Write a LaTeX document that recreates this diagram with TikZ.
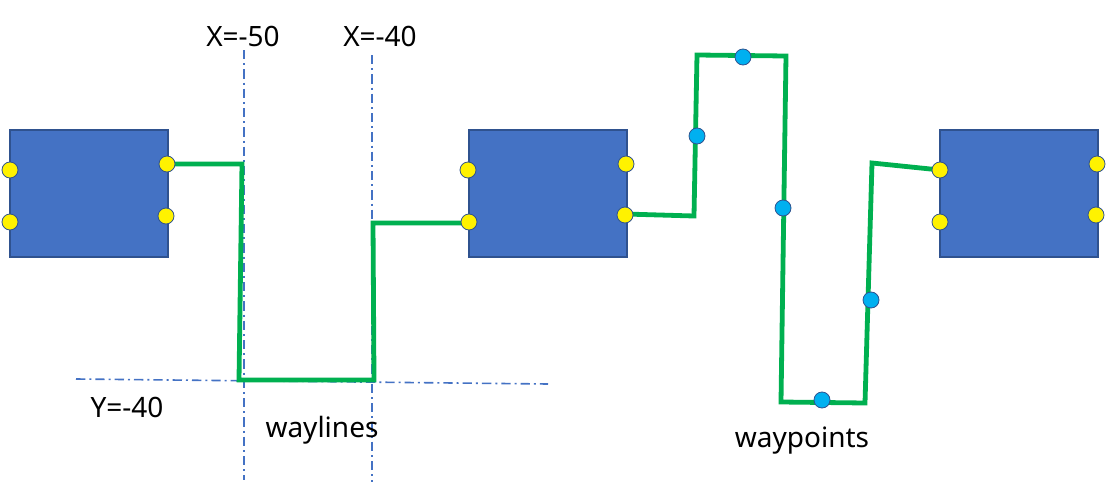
\documentclass[tikz,border=0pt]{standalone}
\usepackage{fontspec}
\setmainfont{Noto Sans}
\begin{document}
\begin{tikzpicture}[x=0.75pt,y=-0.75pt,
  box/.style={fill={rgb,255:red,68;green,114;blue,196},draw={rgb,255:red,47;green,82;blue,143},line width=0.8pt},
  port/.style={circle,fill=yellow,draw={rgb,255:red,47;green,82;blue,143},line width=0.6pt,minimum size=12pt,inner sep=0pt},
  wp/.style={circle,fill={rgb,255:red,0;green,176;blue,240},draw={rgb,255:red,47;green,82;blue,143},line width=0.6pt,minimum size=12pt,inner sep=0pt},
  guide/.style={draw={rgb,255:red,68;green,114;blue,196},line width=1.2pt,dash pattern=on 7pt off 3pt on 1.5pt off 3pt},
  wire/.style={draw={rgb,255:red,0;green,176;blue,80},line width=3.6pt,line join=miter},
  lbl/.style={font=\fontsize{21}{24}\selectfont,inner sep=0pt}]
\useasboundingbox (0,0) rectangle (1107,489);
% guides
\coordinate (v1a) at (244,50); \coordinate (v1b) at (244,480);
\coordinate (v2a) at (372,55); \coordinate (v2b) at (372,482);
\coordinate (ha) at (76,379); \coordinate (hb) at (548,384);
\draw[guide] (v1a) -- (v1b);
\draw[guide] (v2a) -- (v2b);
\draw[guide] (ha) -- (hb);
\node[lbl] (lx1) at (243,36) {X=-50};
\node[lbl] (lx2) at (380,36) {X=-40};
\node[lbl] (ly) at (127,407) {Y=-40};
\node[lbl] (lwl) at (322,430) {waylines};
\node[lbl] (lwp) at (802,441) {waypoints};
% boxes
\draw[box] (10,130) rectangle (168,257);
\draw[box] (469,130) rectangle (627,257);
\draw[box] (940,130) rectangle (1098,257);
% wires
\coordinate (a1) at (242,164); \coordinate (a2) at (239,380);
\coordinate (a3) at (374,380); \coordinate (a4) at (373,223);
\draw[wire] (167,164) -- (a1) -- (a2) -- (a3) -- (a4) -- (469,223);
\coordinate (b1) at (694,216); \coordinate (b2) at (697,55);
\coordinate (b3) at (786,56); \coordinate (b4) at (781,402);
\coordinate (b5) at (865,403); \coordinate (b6) at (872,163);
\draw[wire] (625,214) -- (b1) -- (b2) -- (b3) -- (b4) -- (b5) -- (b6) -- (940,170);
% ports
\foreach \n/\x/\y in {p1/10/170,p2/10/222,p3/167/164,p4/166/216,
  p5/468/170,p6/469/222,p7/626/164,p8/625/215,
  p9/940/170,p10/940/222,p11/1097/164,p12/1096/215}
  \node[port] (\n) at (\x,\y) {};
\foreach \n/\x/\y in {w1/697/136,w2/743/57,w3/783/208,w4/871/300,w5/822/400}
  \node[wp] (\n) at (\x,\y) {};
\end{tikzpicture}
\end{document}
